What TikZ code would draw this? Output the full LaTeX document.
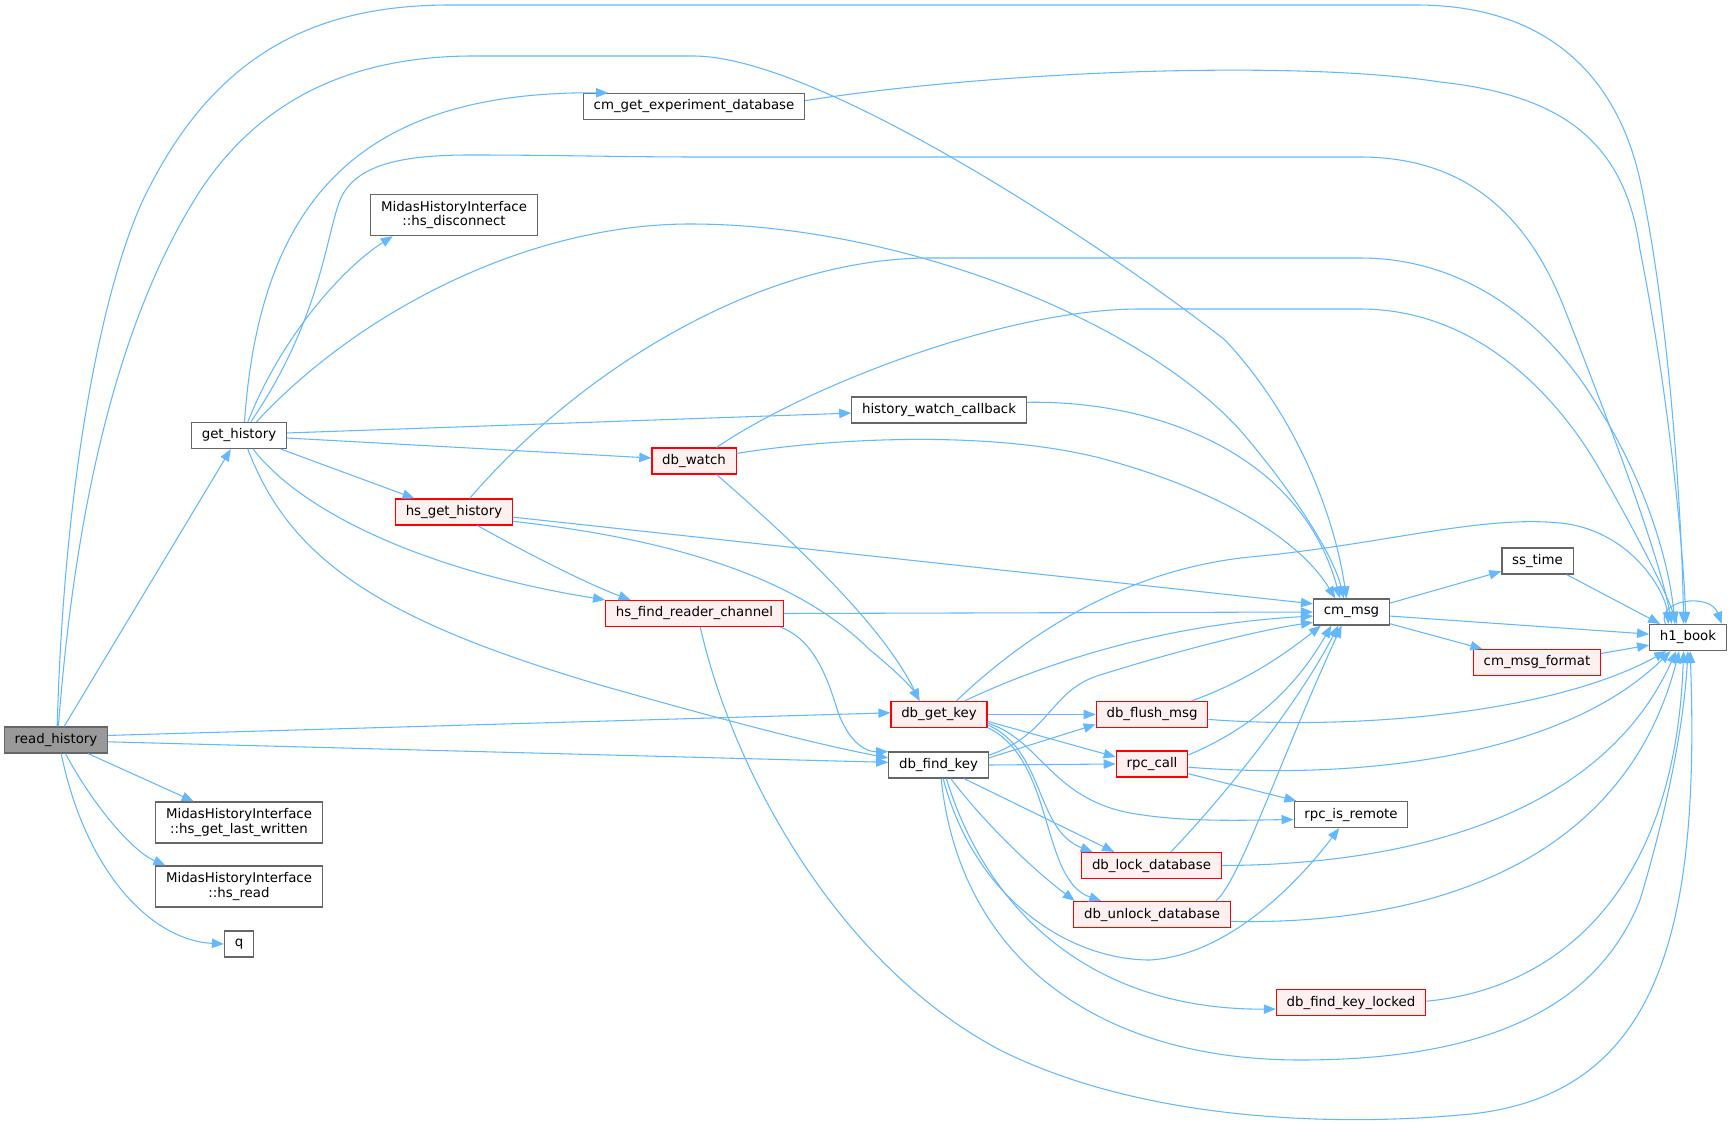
\documentclass[tikz,border=0pt]{standalone}
\usepackage{fontspec}
\setmainfont{DejaVu Sans}
\usetikzlibrary{arrows.meta}
\definecolor{callblue}{HTML}{63B8FF}
\definecolor{boxgray}{HTML}{666666}
\definecolor{curgray}{HTML}{999999}
\definecolor{truncfill}{HTML}{FFF0F0}
\tikzstyle{fn}=[draw=boxgray,fill=white,line width=0.9pt,inner xsep=7.7pt,inner ysep=2pt,minimum height=19.5pt,font=\fontsize{10}{11}\selectfont,align=center]
\tikzstyle{fntrunc}=[fn,draw=red,fill=truncfill]
\tikzstyle{fnroot}=[fn,fill=curgray]
\tikzstyle{fntwo}=[fn,minimum height=30.75pt]
\tikzstyle{call}=[draw=callblue,line width=0.8pt,-{Triangle[length=9pt,width=7pt]}]

\begin{document}
\begin{tikzpicture}[x=0.75pt,y=-0.75pt]
  \useasboundingbox (0,0) rectangle (1732,1124);

  % functions
  \node[fnroot] (readhistory) at (56,740) {read\_history};
  \node[fn] (gethistory) at (239,435.5) {get\_history};
  \node[fntwo] (hsdisconnect) at (454,215) {MidasHistoryInterface\\::hs\_disconnect};
  \node[fn] (cmgetexpdb) at (694,106.5) {cm\_get\_experiment\_database};
  \node[fn] (histwatchcb) at (939,410) {history\_watch\_callback};
  \node[fntrunc] (dbwatch) at (694,461) {db\_watch};
  \node[fntrunc] (hsgethistory) at (454,512) {hs\_get\_history};
  \node[fntrunc] (hsfindreader) at (694.5,613.5) {hs\_find\_reader\_channel};
  \node[fntwo] (hslastwritten) at (239,822.5) {MidasHistoryInterface\\::hs\_get\_last\_written};
  \node[fntwo] (hsread) at (239,886.5) {MidasHistoryInterface\\::hs\_read};
  \node[fn] (q) at (239,944) {q};
  \node[fn] (cmmsg) at (1351.5,612) {cm\_msg};
  \node[fn] (sstime) at (1537.5,561) {ss\_time};
  \node[fn] (hbook) at (1688,637.5) {h1\_book};
  \node[fntrunc] (cmmsgformat) at (1537,662.5) {cm\_msg\_format};
  \node[fntrunc] (dbgetkey) at (939,714.5) {db\_get\_key};
  \node[fntrunc] (dbflushmsg) at (1152,714.5) {db\_flush\_msg};
  \node[fn] (dbfindkey) at (938.5,765) {db\_find\_key};
  \node[fntrunc] (rpccall) at (1152,764) {rpc\_call};
  \node[fn] (rpcisremote) at (1351,814.5) {rpc\_is\_remote};
  \node[fntrunc] (dblockdb) at (1151.5,865.5) {db\_lock\_database};
  \node[fntrunc] (dbunlockdb) at (1152,914.5) {db\_unlock\_database};
  \node[fntrunc] (dbfindkeylocked) at (1351,1002.5) {db\_find\_key\_locked};

  % read_history
  \draw[call] (readhistory.85) .. controls (65,450) and (110,260) .. (150,186) .. controls (220,50) and (320,5) .. (450,5) -- (1416,5) .. controls (1560,5) and (1620,90) .. (1640,180) .. controls (1670,320) and (1682,520) .. (hbook.108);
  \draw[call] (readhistory.80) .. controls (78,470) and (130,300) .. (200,191) .. controls (260,100) and (350,57) .. (470,56) -- (693,56) .. controls (820,56) and (1110,250) .. (1225,340) .. controls (1300,420) and (1335,520) .. (cmmsg.110);
  \draw[call] (readhistory) -- (gethistory);
  \draw[call] (readhistory.5) -- (dbgetkey.178);
  \draw[call] (readhistory.-2) -- (dbfindkey.177);
  \draw[call] (readhistory.-23) -- (hslastwritten.155);
  \draw[call] (readhistory.-55) .. controls (90,800) and (130,850) .. (hsread.164);
  \draw[call] (readhistory.-69) .. controls (85,870) and (150,940) .. (q.west);

  % get_history
  \draw[call] (gethistory.68) .. controls (260,200) and (360,91) .. (cmgetexpdb.171);
  \draw[call] (gethistory.49) .. controls (320,320) and (325,240) .. (340,200) .. controls (355,165) and (400,155) .. (470,155) .. controls (560,155) and (620,157) .. (700,157) -- (1360,157) .. controls (1470,157) and (1530,220) .. (1565,310) .. controls (1620,450) and (1660,560) .. (hbook.140);
  \draw[call] (gethistory.57) .. controls (280,340) and (340,270) .. (hsdisconnect.199);
  \draw[call] (gethistory.38) .. controls (360,310) and (530,224) .. (690,224) .. controls (900,224) and (1140,320) .. (1240,430) .. controls (1300,500) and (1335,560) .. (cmmsg.120);
  \draw[call] (gethistory.3) -- (histwatchcb.182);
  \draw[call] (gethistory.-3) -- (dbwatch.176);
  \draw[call] (gethistory.-18) -- (hsgethistory.161);
  \draw[call] (gethistory.-44) .. controls (300,510) and (420,570) .. (hsfindreader.north west);
  \draw[call] (gethistory.-57) .. controls (290,560) and (380,620) .. (600,685) .. controls (730,722) and (820,745) .. (dbfindkey.172);

  % hs_get_history
  \draw[call] (hsgethistory.41) .. controls (580,370) and (760,258) .. (930,258) -- (1360,258) .. controls (1480,258) and (1560,340) .. (1600,410) .. controls (1650,490) and (1670,570) .. (hbook.134);
  \draw[call] (hsgethistory.-5) -- (cmmsg.168);
  \draw[call] (hsgethistory.-9) .. controls (680,540) and (800,580) .. (870,650) .. controls (895,670) and (912,688) .. (dbgetkey.145);
  \draw[call] (hsgethistory.-30) .. controls (530,555) and (590,585) .. (hsfindreader.168);

  % db_watch
  \draw[call] (dbwatch.31) .. controls (800,390) and (1000,309) .. (1140,309) -- (1360,309) .. controls (1480,309) and (1560,400) .. (1600,470) .. controls (1640,540) and (1665,590) .. (hbook.129);
  \draw[call] (dbwatch.10) .. controls (830,438) and (990,430) .. (1100,458) .. controls (1220,490) and (1300,540) .. (cmmsg.140);
  \draw[call] (dbwatch.-31) .. controls (780,530) and (880,620) .. (dbgetkey.145);

  % history_watch_callback, cm_get_experiment_database
  \draw[call] (histwatchcb.5) .. controls (1150,400) and (1300,450) .. (cmmsg.130);
  \draw[call] (cmgetexpdb.3) .. controls (1000,70) and (1300,60) .. (1440,82) .. controls (1560,95) and (1625,140) .. (1640,250) .. controls (1670,400) and (1684,560) .. (hbook.99);

  % hs_find_reader_channel
  \draw[call] (hsfindreader.east) -- (cmmsg.west);
  \draw[call] (hsfindreader.-9) .. controls (815,640) and (828,680) .. (838,712) .. controls (850,745) and (868,752) .. (dbfindkey.165);
  \draw[call] (hsfindreader.-67) .. controls (730,760) and (830,960) .. (1000,1050) .. controls (1150,1125) and (1350,1125) .. (1460,1115) .. controls (1660,1100) and (1700,930) .. (hbook.279);

  % db_get_key
  \draw[call] (dbgetkey.38) .. controls (1020,640) and (1120,570) .. (1250,557) .. controls (1380,545) and (1480,515) .. (1560,523) .. controls (1630,530) and (1665,590) .. (hbook.145);
  \draw[call] (dbgetkey.28) .. controls (1030,670) and (1150,625) .. (cmmsg.186);
  \draw[call] (dbgetkey.east) -- (dbflushmsg.west);
  \draw[call] (dbgetkey.-8) -- (rpccall.169);
  \draw[call] (dbgetkey.-10) .. controls (1040,740) and (1050,795) .. (1125,812) .. controls (1180,823) and (1250,820) .. (rpcisremote.185);
  \draw[call] (dbgetkey.-12) .. controls (1045,750) and (1035,830) .. (dblockdb.167);
  \draw[call] (dbgetkey.-15) .. controls (1055,760) and (1040,880) .. (dbunlockdb.165);

  % db_find_key
  \draw[call] (dbfindkey.11) .. controls (1050,735) and (1050,690) .. (1100,675) .. controls (1180,650) and (1260,630) .. (cmmsg.195);
  \draw[call] (dbfindkey.8) -- (dbflushmsg.190);
  \draw[call] (dbfindkey.east) -- (rpccall.west);
  \draw[call] (dbfindkey.-28) -- (dblockdb.160);
  \draw[call] (dbfindkey.-48) .. controls (990,830) and (1040,875) .. (dbunlockdb.170);
  \draw[call] (dbfindkey.-71) .. controls (975,900) and (1070,960) .. (1150,960) .. controls (1230,955) and (1300,880) .. (rpcisremote.229);
  \draw[call] (dbfindkey.-60) .. controls (990,920) and (1100,1010) .. (dbfindkeylocked.185);
  \draw[call] (dbfindkey.-79) .. controls (960,960) and (1100,1060) .. (1300,1060) .. controls (1500,1060) and (1600,1000) .. (1640,900) .. controls (1670,800) and (1684,720) .. (hbook.270);

  % db_flush_msg, rpc_call
  \draw[call] (dbflushmsg.19) .. controls (1250,680) and (1290,650) .. (cmmsg.204);
  \draw[call] (dbflushmsg.-5) .. controls (1350,730) and (1550,715) .. (hbook.212);
  \draw[call] (rpccall.14) .. controls (1260,725) and (1300,680) .. (cmmsg.214);
  \draw[call] (rpccall.-5) .. controls (1350,780) and (1560,760) .. (hbook.218);
  \draw[call] (rpccall.-15) -- (rpcisremote.166);

  % db_lock_database, db_unlock_database, db_find_key_locked
  \draw[call] (dblockdb.35) .. controls (1230,790) and (1300,700) .. (cmmsg.226);
  \draw[call] (dblockdb.east) .. controls (1400,865) and (1600,820) .. (hbook.229);
  \draw[call] (dbunlockdb.12) .. controls (1240,880) and (1280,760) .. (cmmsg.234);
  \draw[call] (dbunlockdb.-5) .. controls (1400,925) and (1620,880) .. (hbook.237);
  \draw[call] (dbfindkeylocked.1) .. controls (1550,990) and (1675,900) .. (hbook.252);

  % cm_msg and below
  \draw[call] (cmmsg.13) -- (sstime.196);
  \draw[call] (cmmsg.-6) -- (hbook.175);
  \draw[call] (cmmsg.-17) -- (cmmsgformat.166);
  \draw[call] (sstime.-25) -- (hbook.154);
  \draw[call] (cmmsgformat.8) -- (hbook.191);
  \draw[call] (hbook.149) .. controls (1655,600) and (1710,592) .. (hbook.22);
\end{tikzpicture}
\end{document}
